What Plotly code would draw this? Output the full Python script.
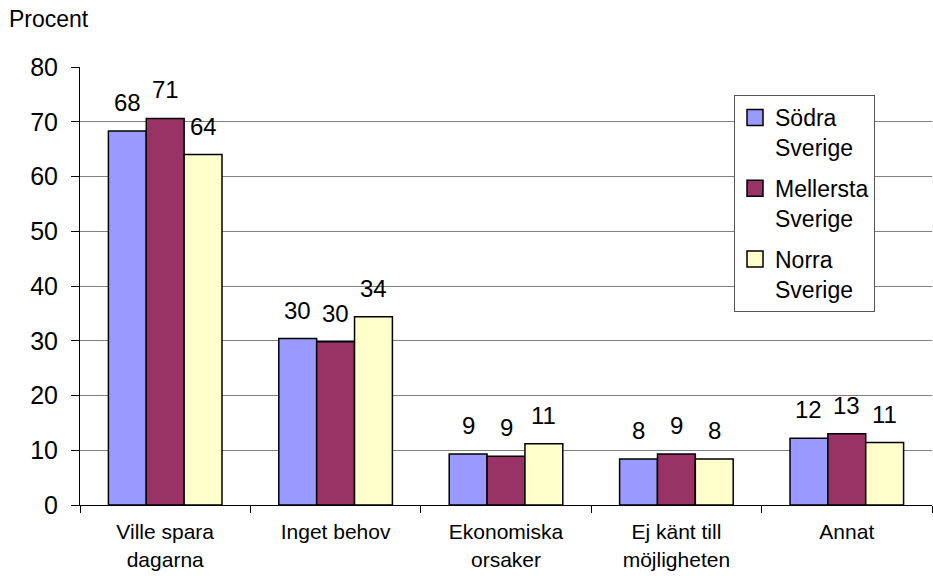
import plotly.graph_objects as go

# Survey results: reasons, share in percent per region
categories = ["Ville spara<br>dagarna", "Inget behov", "Ekonomiska<br>orsaker",
              "Ej känt till<br>möjligheten", "Annat"]
series_names = ["Södra<br>Sverige", "Mellersta<br>Sverige", "Norra<br>Sverige"]
sodra = [68.3, 30.4, 9.3, 8.4, 12.2]
mellersta = [70.6, 29.8, 8.9, 9.3, 13.0]
norra = [64.0, 34.4, 11.2, 8.4, 11.4]
y_ticks = [0, 10, 20, 30, 40, 50, 60, 70, 80]

series_values = [sodra, mellersta, norra]
colors = ["#9999FF", "#993366", "#FFFFCC"]

FONT = "Liberation Sans, Arial, sans-serif"
W, H = 933, 576
M_L, M_R, M_T, M_B = 80, 1, 67, 71
plot_w = W - M_L - M_R
cat_w = plot_w / len(categories)
bargap = 1 / 3
bar_w = cat_w * (1 - bargap) / len(series_values)

fig = go.Figure()
for i, (name, vals) in enumerate(zip(series_names, series_values)):
    fig.add_trace(go.Bar(
        x=categories, y=vals, name=name, showlegend=False,
        marker=dict(color=colors[i], line=dict(color="black", width=1.5)),
    ))
    # value labels above each bar
    for c, v in zip(categories, vals):
        fig.add_annotation(
            x=c, y=v, xref="x", yref="y", text=f"{v:.0f}",
            showarrow=False, yanchor="bottom", xanchor="center",
            xshift=(i - 1) * bar_w, yshift=13,
            font=dict(family=FONT, size=24, color="black"),
        )

# legend entries with larger square swatches
for i, name in enumerate(series_names):
    fig.add_trace(go.Scatter(
        x=[None], y=[None], mode="markers", name=name,
        legendgroup=f"g{i}",
        marker=dict(symbol="square", size=16, color=colors[i],
                    line=dict(color="black", width=1.5)),
    ))

fig.add_annotation(
    text="Procent", xref="paper", yref="paper",
    x=(7 - M_L) / plot_w, y=(H - M_B - 19) / (H - M_T - M_B),
    xanchor="left", yanchor="middle", showarrow=False,
    font=dict(family=FONT, size=23, color="black"),
)

fig.update_layout(
    width=W, height=H,
    margin=dict(l=M_L, r=M_R, t=M_T, b=M_B),
    paper_bgcolor="white", plot_bgcolor="white",
    barmode="group", bargap=bargap, bargroupgap=0,
    font=dict(family=FONT, size=22, color="black"),
    showlegend=True,
    legend=dict(
        x=(734 - M_L) / plot_w, y=(H - M_B - 95) / (H - M_T - M_B),
        xanchor="left", yanchor="top",
        bgcolor="white", bordercolor="#555555", borderwidth=1,
        font=dict(family=FONT, size=23, color="black"),
        valign="top", traceorder="grouped", tracegroupgap=8,
    ),
    xaxis=dict(
        showline=True, linecolor="black", linewidth=1,
        ticks="outside", tickson="boundaries", ticklen=7, tickcolor="black",
        showgrid=False, tickfont=dict(family=FONT, size=21),
        ticklabelstandoff=8, automargin=False,
    ),
    yaxis=dict(
        range=[0, 80], tickvals=y_ticks,
        showline=True, linecolor="black", linewidth=1,
        ticks="outside", ticklen=8, tickcolor="black",
        showgrid=True, gridcolor="#808080", gridwidth=1,
        zeroline=False, ticklabelstandoff=8, automargin=False,
        tickfont=dict(family=FONT, size=25),
    ),
)

fig.write_html("out.html")
